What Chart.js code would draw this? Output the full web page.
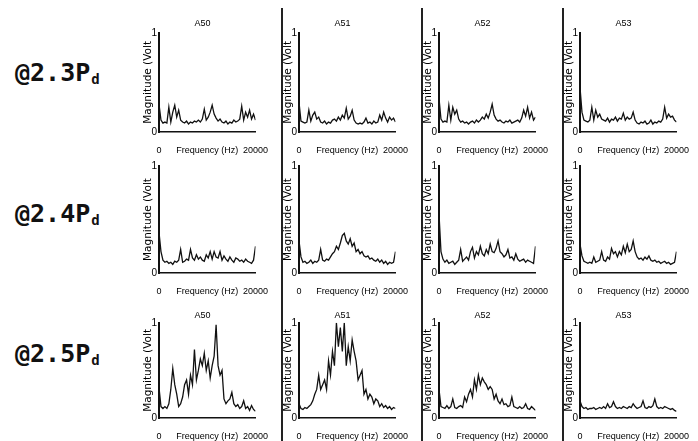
<!DOCTYPE html>
<html>
<head>
<meta charset="utf-8">
<script src="https://cdn.jsdelivr.net/npm/chart.js@4/dist/chart.umd.min.js"></script>
<style>
  html, body { margin:0; padding:0; background:#fff; }
  body { width:698px; height:441px; position:relative; overflow:hidden; }
  canvas { position:absolute; }
  .sep { position:absolute; width:2px; background:#222; top:8px; bottom:0; }
  .load { position:absolute; left:15px; font:bold 25px/25px "DejaVu Sans Mono", monospace; color:#111; white-space:nowrap; }
  .load span { font-size:14px; vertical-align:-3px; margin-left:1px; }
</style>
</head>
<body>
<script>
// sensors across, loading levels down
const sensors = ['A50', 'A51', 'A52', 'A53'];
const loads = ['@2.3P', '@2.4P', '@2.5P'];

// normalised spectrum magnitudes, 0..20000 Hz
const a50_23 = [0.28,0.12,0.09,0.1,0.09,0.25,0.1,0.2,0.27,0.15,0.22,0.12,0.1,0.09,0.11,0.08,0.1,0.09,0.11,0.1,0.12,0.1,0.13,0.23,0.12,0.15,0.2,0.27,0.18,0.14,0.11,0.13,0.1,0.09,0.11,0.08,0.1,0.09,0.12,0.1,0.11,0.13,0.26,0.12,0.2,0.15,0.22,0.13,0.18,0.12];
const a51_23 = [0.3,0.11,0.1,0.09,0.1,0.22,0.11,0.17,0.2,0.13,0.15,0.1,0.09,0.11,0.08,0.1,0.09,0.12,0.13,0.11,0.15,0.12,0.17,0.14,0.24,0.13,0.16,0.22,0.12,0.09,0.08,0.09,0.08,0.1,0.14,0.09,0.1,0.08,0.11,0.09,0.1,0.17,0.12,0.2,0.14,0.1,0.15,0.12,0.14,0.1];
const a52_23 = [0.34,0.13,0.1,0.11,0.1,0.27,0.12,0.25,0.18,0.22,0.13,0.1,0.11,0.09,0.1,0.08,0.1,0.11,0.09,0.12,0.1,0.12,0.15,0.13,0.18,0.14,0.2,0.28,0.17,0.13,0.11,0.12,0.1,0.09,0.11,0.1,0.12,0.09,0.1,0.11,0.12,0.1,0.14,0.22,0.16,0.25,0.14,0.2,0.12,0.15];
const a53_23 = [0.45,0.2,0.12,0.11,0.1,0.12,0.25,0.12,0.22,0.15,0.18,0.13,0.12,0.11,0.14,0.1,0.13,0.12,0.15,0.11,0.14,0.13,0.19,0.12,0.15,0.13,0.14,0.2,0.12,0.09,0.08,0.1,0.09,0.11,0.08,0.09,0.12,0.08,0.1,0.09,0.11,0.1,0.13,0.25,0.14,0.18,0.15,0.16,0.12,0.1];

const a50_24 = [0.38,0.2,0.12,0.1,0.11,0.09,0.1,0.08,0.11,0.1,0.12,0.22,0.1,0.11,0.13,0.12,0.22,0.14,0.12,0.17,0.13,0.15,0.12,0.11,0.17,0.14,0.2,0.13,0.2,0.15,0.14,0.2,0.12,0.16,0.13,0.11,0.15,0.12,0.1,0.14,0.13,0.11,0.12,0.1,0.13,0.11,0.1,0.09,0.12,0.25];
const a51_24 = [0.3,0.15,0.1,0.11,0.09,0.1,0.12,0.09,0.11,0.1,0.12,0.22,0.12,0.11,0.13,0.12,0.15,0.18,0.2,0.25,0.22,0.28,0.35,0.37,0.3,0.27,0.32,0.25,0.28,0.2,0.22,0.18,0.2,0.16,0.15,0.16,0.13,0.14,0.12,0.11,0.13,0.1,0.12,0.09,0.11,0.08,0.1,0.09,0.1,0.2];
const a52_24 = [0.55,0.2,0.13,0.1,0.12,0.09,0.1,0.11,0.08,0.1,0.12,0.22,0.11,0.13,0.15,0.12,0.2,0.24,0.14,0.2,0.17,0.25,0.18,0.16,0.22,0.18,0.27,0.2,0.19,0.23,0.3,0.2,0.18,0.15,0.17,0.22,0.14,0.15,0.12,0.18,0.13,0.11,0.12,0.13,0.1,0.12,0.11,0.1,0.09,0.25];
const a53_24 = [0.27,0.16,0.11,0.1,0.09,0.1,0.09,0.15,0.1,0.11,0.12,0.2,0.12,0.11,0.15,0.13,0.23,0.18,0.2,0.15,0.2,0.17,0.25,0.19,0.27,0.2,0.22,0.3,0.2,0.15,0.13,0.14,0.12,0.15,0.13,0.16,0.12,0.11,0.12,0.1,0.11,0.09,0.1,0.11,0.09,0.1,0.08,0.09,0.1,0.2];

const a50_25 = [0.32,0.12,0.1,0.12,0.1,0.15,0.3,0.52,0.35,0.25,0.12,0.15,0.22,0.35,0.4,0.25,0.45,0.35,0.72,0.4,0.5,0.62,0.55,0.68,0.5,0.6,0.42,0.55,0.65,0.98,0.55,0.45,0.5,0.2,0.15,0.18,0.2,0.27,0.15,0.12,0.14,0.1,0.12,0.18,0.1,0.12,0.08,0.13,0.09,0.07];
const a51_25 = [0.15,0.1,0.09,0.11,0.1,0.12,0.14,0.18,0.25,0.3,0.45,0.3,0.35,0.4,0.3,0.6,0.45,0.7,0.55,1.0,0.75,0.95,0.7,1.0,0.55,0.75,0.6,0.82,0.7,0.6,0.4,0.45,0.5,0.25,0.3,0.2,0.25,0.22,0.15,0.2,0.18,0.12,0.15,0.11,0.13,0.1,0.12,0.09,0.11,0.1];
const a52_25 = [0.3,0.12,0.11,0.1,0.13,0.1,0.12,0.2,0.11,0.1,0.12,0.13,0.11,0.22,0.17,0.25,0.3,0.22,0.4,0.3,0.45,0.35,0.42,0.38,0.35,0.3,0.33,0.3,0.2,0.25,0.18,0.15,0.2,0.14,0.15,0.12,0.13,0.22,0.12,0.11,0.1,0.12,0.1,0.11,0.15,0.1,0.09,0.12,0.1,0.08];
const a53_25 = [0.18,0.12,0.1,0.11,0.09,0.1,0.1,0.11,0.09,0.1,0.11,0.1,0.12,0.1,0.15,0.11,0.12,0.17,0.12,0.1,0.11,0.1,0.12,0.11,0.1,0.12,0.11,0.15,0.12,0.1,0.11,0.12,0.18,0.11,0.1,0.12,0.11,0.13,0.2,0.12,0.1,0.11,0.1,0.12,0.11,0.1,0.09,0.1,0.08,0.07];

const grid = [
  [a50_23, a51_23, a52_23, a53_23],
  [a50_24, a51_24, a52_24, a53_24],
  [a50_25, a51_25, a52_25, a53_25]
];

const FMAX = 20000;
const axisX = [159, 299, 439, 580];
// per row: canvas top, height, title shown, title bottom pad, layout top pad, label top
const rows = [
  {top:18,  h:138, title:true,  tpad:4, pad:0, lab:60},
  {top:158, h:139, title:false, tpad:0, pad:7, lab:201},
  {top:310, h:132, title:true,  tpad:2, pad:0, lab:341}
];

Chart.defaults.font.family = '"Liberation Sans", Arial, sans-serif';
Chart.defaults.color = '#000';

[282, 422, 563].forEach(x => {
  let d = document.createElement('div');
  d.className = 'sep';
  d.style.left = (x - 1) + 'px';
  document.body.appendChild(d);
});

rows.forEach((r, ri) => {
  let lab = document.createElement('div');
  lab.className = 'load';
  lab.style.top = r.lab + 'px';
  lab.innerHTML = loads[ri] + '<span>d</span>';
  document.body.appendChild(lab);

  grid[ri].forEach((vals, ci) => {
    let cv = document.createElement('canvas');
    cv.width = 144;
    cv.height = r.h;
    cv.style.left = (axisX[ci] - 22) + 'px';
    cv.style.top = r.top + 'px';
    document.body.appendChild(cv);

    new Chart(cv, {
      type: 'line',
      data: {
        datasets: [{
          data: vals.map((v, i) => ({x: i * FMAX / (vals.length - 1), y: v})),
          borderColor: '#111',
          borderWidth: 1.3,
          pointRadius: 0,
          tension: 0
        }]
      },
      options: {
        responsive: false,
        animation: false,
        devicePixelRatio: 1,
        events: [],
        layout: {padding: {top: r.pad, right: 13, left: 0, bottom: 0}},
        plugins: {
          legend: {display: false},
          tooltip: {enabled: false},
          title: {display: r.title, text: sensors[ci], font: {size: 9, weight: 'normal'}, color: '#000', padding: {top: 0, bottom: r.tpad}}
        },
        scales: {
          x: {
            type: 'linear', min: 0, max: FMAX,
            grid: {display: false, drawTicks: false},
            border: {color: '#111', width: 1.5},
            ticks: {stepSize: 10000, autoSkip: false, maxRotation: 0, padding: 13, font: {size: 9},
              callback: v => v === 10000 ? 'Frequency (Hz)' : String(v)},
            afterFit: s => { s.height = 24; }
          },
          y: {
            min: 0, max: 1,
            grid: {display: false, drawTicks: false},
            border: {color: '#111', width: 2},
            ticks: {stepSize: 1, padding: 2, font: {size: 10}},
            title: {display: true, text: 'Magnitude (Volt', font: {size: 10.5, family: '"DejaVu Sans", sans-serif'}, padding: {top: 5, bottom: 0}},
            afterFit: s => { s.width = 22; }
          }
        }
      }
    });
  });
});
</script>
</body>
</html>
